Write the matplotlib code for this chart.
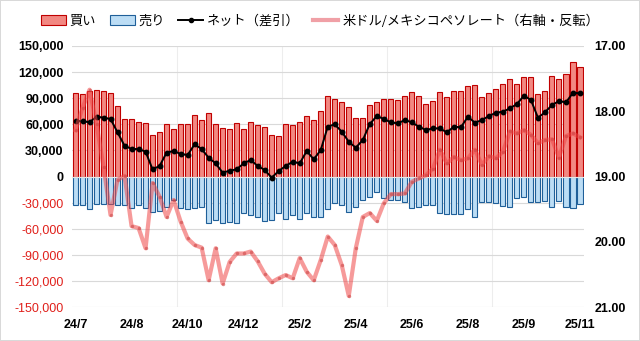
import matplotlib
matplotlib.use("Agg")
import matplotlib.pyplot as plt
from matplotlib.patches import Patch
from matplotlib.lines import Line2D
from matplotlib.ticker import FuncFormatter, MultipleLocator
import numpy as np
import pandas as pd

plt.rcParams['font.family'] = ['Liberation Sans', 'Noto Sans CJK JP', 'DejaVu Sans']

# Weekly positioning (Fridays)
weeks = pd.date_range('2024-07-05', periods=73, freq='W-FRI')

# Long positions (contracts)
buy = [95600, 94400, 97900, 99000, 97900, 95600, 81000, 65700, 65700, 62600,
       61100, 47700, 50800, 60000, 54200, 60300, 60300, 70700, 64900, 72600,
       60300, 55400, 54200, 61100, 54200, 62300, 58800, 56500, 47700, 46200,
       60300, 59200, 62300, 69500, 64900, 75000, 92500, 88700, 85200, 79500,
       66900, 66900, 82200, 85200, 88700, 88700, 87900, 92500, 97400, 92500,
       83300, 86700, 96700, 91500, 98200, 98200, 104000, 105100, 91000, 95600,
       100200, 105900, 112000, 106300, 114000, 114000, 94400, 98200, 115500, 111700,
       117400, 131900, 125500]

# Short positions (contracts, negative)
sell = [-32700, -32700, -37700, -32000, -32000, -32000, -32700, -32700, -36600, -32700,
        -36600, -41200, -39600, -35400, -27000, -36600, -37700, -36600, -35400, -53800,
        -50000, -53800, -51900, -53800, -41600, -44200, -46100, -51100, -50000, -42300,
        -49200, -44200, -49200, -42300, -46100, -46100, -37700, -30800, -32700, -41200,
        -35400, -27000, -23900, -18200, -25100, -27000, -27000, -29700, -36600, -35400,
        -32700, -32700, -42300, -43100, -43100, -43100, -37700, -46100, -28900, -28900,
        -30100, -33900, -35400, -25100, -23900, -28900, -28900, -27800, -35400, -27800,
        -34700, -36600, -31600]

# Net position (contracts)
net = [63800, 63800, 62200, 68800, 67600, 66100, 50700, 35400, 31600, 31600,
       28500, 8200, 12100, 27400, 29300, 25900, 24700, 37000, 31600, 21600,
       15100, 4400, 6700, 8200, 15100, 19000, 12100, 7500, -1300, 6300,
       12100, 17000, 15100, 29300, 19700, 30400, 57300, 60000, 51500, 40000,
       33100, 41900, 60300, 69500, 66100, 62200, 61100, 64900, 62200, 57300,
       53400, 55300, 55300, 50700, 57300, 56500, 68800, 61800, 64900, 69500,
       73300, 74500, 78300, 83300, 92900, 87900, 67600, 73700, 82200, 86700,
       85200, 96300, 95600]

# USD/MXN rate
usdmxn = [18.29, 17.95, 17.67, 18.20, 18.85, 19.59, 19.05, 18.99, 19.76, 19.79,
          20.10, 19.10, 19.31, 19.62, 19.36, 19.69, 19.95, 20.05, 20.09, 20.59,
          20.10, 20.64, 20.31, 20.18, 20.18, 20.15, 20.30, 20.49, 20.62, 20.56,
          20.51, 20.56, 20.25, 20.46, 20.59, 20.28, 19.92, 20.05, 20.36, 20.83,
          20.10, 19.62, 19.56, 19.68, 19.41, 19.27, 19.27, 19.26, 19.08, 19.03,
          18.98, 18.88, 18.59, 18.80, 18.70, 18.75, 18.72, 18.59, 18.82, 18.69,
          18.72, 18.62, 18.31, 18.34, 18.29, 18.36, 18.49, 18.44, 18.43, 18.71,
          18.38, 18.34, 18.40]

tick_idx = list(range(0, 73, 8))
tick_labels = [f"{weeks[i]:%y}/{weeks[i].month}" for i in tick_idx]

RED_FILL = '#F28882'
RED_EDGE = '#C00000'
BLUE_FILL = '#BCDDF5'
BLUE_EDGE = '#1F5F99'
MXN_COLOR = '#F04848'

fig = plt.figure(figsize=(6.4, 3.41), dpi=100)
fig.patch.set_facecolor('white')
fig.patch.set_edgecolor('#D9D9D9')
fig.patch.set_linewidth(1.2)

ax = fig.add_axes([72 / 640, 1 - 307 / 341, (583.5 - 72) / 640, (307 - 46) / 341])
x = np.arange(len(buy))

ax.bar(x, buy, width=0.72, color=RED_FILL, edgecolor=RED_EDGE, linewidth=0.8, zorder=2)
ax.bar(x, sell, width=0.72, color=BLUE_FILL, edgecolor=BLUE_EDGE, linewidth=0.8, zorder=2)
ax.axhline(0, color='#E6E6E6', lw=0.9, zorder=2.5)
ax.plot(x, net, color='black', lw=1.4, marker='o', markersize=3.2, zorder=5)

ax.set_xlim(-0.5, len(buy) - 0.5)
ax.set_ylim(-150000, 150000)
ax.yaxis.set_major_locator(MultipleLocator(30000))
ax.grid(axis='y', color='#D9D9D9', lw=0.8, zorder=0)
for xv in (14.5, 29.5, 44.5, 59.5):
    ax.axvline(xv, color='#EDEDED', lw=0.8, zorder=0)
ax.set_axisbelow(True)

ax.set_xticks(tick_idx)
ax.set_xticklabels(tick_labels, fontsize=9, fontweight='bold')
ax.tick_params(axis='x', length=0, pad=9)
ax.tick_params(axis='y', length=0, pad=6)
ax.yaxis.set_major_formatter(FuncFormatter(lambda v, p: f"{v:,.0f}"))
for lbl in ax.get_yticklabels():
    lbl.set_fontsize(9)
fig.canvas.draw()
for lbl, v in zip(ax.get_yticklabels(), ax.get_yticks()):
    if v < 0:
        lbl.set_color('#E0201B')
    else:
        lbl.set_fontweight('bold')
for s in ax.spines.values():
    s.set_visible(False)

ax2 = ax.twinx()
ax2.plot(x, usdmxn, color=MXN_COLOR, alpha=0.55, lw=3, zorder=3,
         marker='o', markersize=2.5, markerfacecolor='#C84040', markeredgecolor='none')
ax2.set_ylim(21, 17)
ax2.set_yticks([17, 18, 19, 20, 21])
ax2.yaxis.set_major_formatter(FuncFormatter(lambda v, p: f"{v:.2f}"))
ax2.tick_params(axis='y', length=0, pad=8, labelsize=9)
for lbl in ax2.get_yticklabels():
    lbl.set_fontweight('bold')
for s in ax2.spines.values():
    s.set_visible(False)

handles = [
    Patch(facecolor=RED_FILL, edgecolor=RED_EDGE, linewidth=0.8),
    Patch(facecolor=BLUE_FILL, edgecolor=BLUE_EDGE, linewidth=0.8),
    Line2D([0], [0], color='black', lw=1.4, marker='o', markersize=3),
    Line2D([0], [0], color='#F0A0A6', lw=3),
]
labels = ['買い', '売り', 'ネット（差引）', '米ドル/メキシコペソレート（右軸・反転）']
fig.legend(handles, labels, loc='center', bbox_to_anchor=(0.5, 1 - 21 / 341), ncol=4,
           frameon=False, handlelength=1.9, handletextpad=0.3, columnspacing=1.0,
           prop={'family': ['Noto Sans CJK JP', 'DejaVu Sans'], 'size': 9.5})

fig.savefig('out.png', dpi=100, facecolor=fig.get_facecolor(), edgecolor=fig.get_edgecolor())
